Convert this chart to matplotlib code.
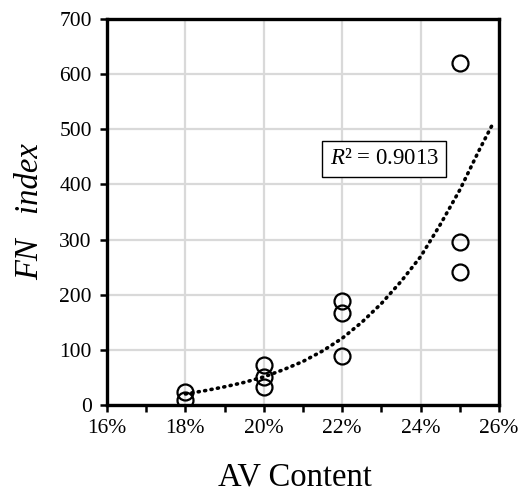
import numpy as np
import matplotlib
matplotlib.use("Agg")
import matplotlib.pyplot as plt
from matplotlib.ticker import MultipleLocator, FuncFormatter

# measured data points
av = [0.18, 0.18, 0.20, 0.20, 0.20, 0.22, 0.22, 0.22, 0.25, 0.25, 0.25]
fn = [24, 9, 73, 51, 32, 188, 166, 88, 620, 295, 241]

# exponential trendline
trend_x = [0.18, 0.185, 0.19, 0.195, 0.20, 0.205, 0.21, 0.215, 0.22, 0.225,
           0.23, 0.235, 0.24, 0.245, 0.25, 0.255, 0.2585]
trend_y = [20, 26, 33, 41, 51, 64, 79, 98, 121, 150,
           184, 224, 269, 327, 390, 463, 511]

r2_label = "0.9013"
x_ticks = [0.16, 0.18, 0.20, 0.22, 0.24, 0.26]
y_ticks = [0, 100, 200, 300, 400, 500, 600, 700]

plt.rcParams['font.family'] = ['Liberation Serif', 'DejaVu Serif']
plt.rcParams['mathtext.fontset'] = 'custom'
plt.rcParams['mathtext.rm'] = 'Liberation Serif'
plt.rcParams['mathtext.it'] = 'Liberation Serif:italic'

fig = plt.figure(figsize=(5.23, 4.93), dpi=100)
ax = fig.add_axes([107/523, 1-405/493, (499-107)/523, (405-19)/493])

ax.grid(True, color='#d9d9d9', linewidth=1.6, zorder=0)
ax.set_axisbelow(True)

ax.plot(trend_x, trend_y, linestyle=(0, (0.3, 1.5)), color='black', linewidth=2.6,
        dash_capstyle='round', solid_joinstyle='round', zorder=3)

ax.plot(av, fn, linestyle='none', marker='o', markersize=11.5,
        markerfacecolor='none', markeredgecolor='black', markeredgewidth=1.6, zorder=4)

ax.set_xlim(0.16, 0.26)
ax.set_ylim(0, 700)
ax.set_xticks(x_ticks)
ax.set_yticks(y_ticks)
ax.xaxis.set_minor_locator(MultipleLocator(0.01))
ax.xaxis.set_major_formatter(FuncFormatter(lambda v, p: f"{v*100:.0f}%"))
ax.tick_params(axis='both', which='both', direction='out', width=1.8, color='black',
               labelsize=15.5, length=5)
ax.tick_params(axis='x', which='minor', length=5)
ax.tick_params(axis='x', which='major', pad=5)
ax.tick_params(axis='y', which='major', pad=6)
for s in ax.spines.values():
    s.set_linewidth(2.4)
    s.set_color('black')

ax.set_xlabel("AV Content", fontsize=23.5)
ax.xaxis.label.set_va('baseline')
ax.xaxis.set_label_coords(0.48, -0.209)
ax.set_ylabel("FN   index", fontsize=23.5, fontstyle='italic', labelpad=10)

ax.text(0.2307, 446.7, r"$R$² = " + r2_label, fontsize=16.5, ha='center', va='center',
        bbox=dict(boxstyle='square,pad=0.32', facecolor='white', edgecolor='black', linewidth=1.0),
        zorder=5)

fig.savefig("out.png", dpi=100)
